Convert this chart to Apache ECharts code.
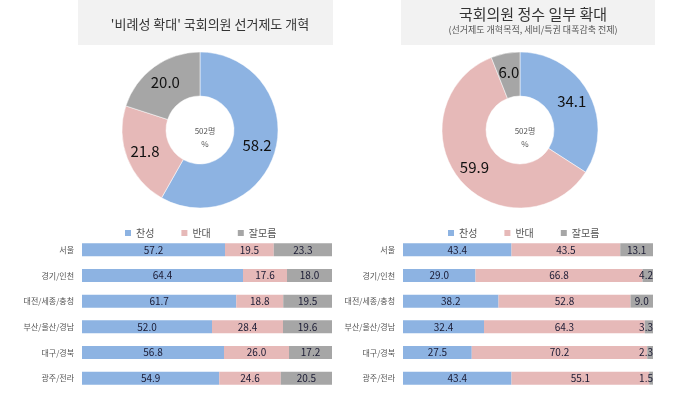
<!DOCTYPE html>
<html><head><meta charset="utf-8">
<script src="https://cdn.jsdelivr.net/npm/echarts@6/dist/echarts.min.js"></script>
<style>html,body{margin:0;padding:0;background:#fff}#c{width:700px;height:399px}</style>
</head><body><div id="c"></div>
<script>
const seriesNames = ['찬성', '반대', '잘모름'];
const colors = ['#8DB3E2', '#E6B9B8', '#A6A6A6'];
const regions = ['서울', '경기/인천', '대전/세종/충청', '부산/울산/경남', '대구/경북', '광주/전라'];

const pieLeft = [58.2, 21.8, 20.0];
const pieRight = [34.1, 59.9, 6.0];

const leftFor = [57.2, 64.4, 61.7, 52.0, 56.8, 54.9];
const leftAgainst = [19.5, 17.6, 18.8, 28.4, 26.0, 24.6];
const leftUnsure = [23.3, 18.0, 19.5, 19.6, 17.2, 20.5];

const rightFor = [43.4, 29.0, 38.2, 32.4, 27.5, 43.4];
const rightAgainst = [43.5, 66.8, 52.8, 64.3, 70.2, 55.1];
const rightUnsure = [13.1, 4.2, 9.0, 3.3, 2.3, 1.5];

const titleLeft = "'비례성 확대' 국회의원 선거제도 개혁";
const titleRight = '국회의원 정수 일부 확대';
const subRight = '(선거제도 개혁목적, 세비/특권 대폭감축 전제)';
const centerText = '502명\n%';

const FONT = '"Noto Sans CJK KR", sans-serif';
const chart = echarts.init(document.getElementById('c'));

function pie(vals, cx) {
  return {
    type: 'pie', center: [cx, 130], radius: [34, 78], startAngle: 90,
    silent: true, labelLine: { show: false },
    label: { show: true, position: 'inside', formatter: p => p.value.toFixed(1),
      fontSize: 15, color: '#111', fontFamily: FONT },
    itemStyle: { borderColor: '#fff', borderWidth: 0.5 },
    data: vals.map((v, i) => ({ name: seriesNames[i], value: v, itemStyle: { color: colors[i] } }))
  };
}
function bars(arrs, idx) {
  return arrs.map((a, i) => ({
    type: 'bar', name: seriesNames[i], stack: 's' + idx, xAxisIndex: idx, yAxisIndex: idx,
    barWidth: 13, silent: true, itemStyle: { color: colors[i] },
    label: { show: true, position: 'inside', formatter: p => p.value.toFixed(1),
      fontSize: 10, color: '#1a1a33', fontFamily: FONT },
    data: a.map(v => v < 5 ? { value: v, label: { position: 'insideRight', distance: 0 } } : v)
  }));
}
const grids = [
  { left: 82, width: 250, top: 237, height: 154 },
  { left: 403, width: 250, top: 237, height: 154 }
];
chart.setOption({
  animation: false,
  textStyle: { fontFamily: FONT },
  graphic: [
    { type: 'rect', shape: { x: 78, y: 0, width: 255, height: 45 }, style: { fill: '#F2F2F2' }, silent: true },
    { type: 'rect', shape: { x: 401, y: 0, width: 254, height: 45 }, style: { fill: '#F2F2F2' }, silent: true }
  ],
  title: [
    { text: titleLeft, left: 205, top: 13, textAlign: 'center',
      textStyle: { fontSize: 13, fontWeight: 'normal', color: '#333', fontFamily: FONT } },
    { text: titleRight, subtext: subRight, left: 528, top: 2, textAlign: 'center', itemGap: 3,
      textStyle: { fontSize: 15, fontWeight: 'normal', color: '#333', fontFamily: FONT },
      subtextStyle: { fontSize: 9, color: '#555', fontFamily: FONT } },
    { text: centerText, left: 200, top: 119, textAlign: 'center',
      textStyle: { fontSize: 8, fontWeight: 'normal', color: '#555', lineHeight: 13, fontFamily: FONT } },
    { text: centerText, left: 520, top: 119, textAlign: 'center',
      textStyle: { fontSize: 8, fontWeight: 'normal', color: '#555', lineHeight: 13, fontFamily: FONT } }
  ],
  legend: [
    { left: 120, top: 223, itemWidth: 6, itemHeight: 6, itemGap: 27, icon: 'rect', selectedMode: false,
      data: seriesNames, textStyle: { fontSize: 10, color: '#555', fontFamily: FONT } },
    { left: 443, top: 223, itemWidth: 6, itemHeight: 6, itemGap: 27, icon: 'rect', selectedMode: false,
      data: seriesNames, textStyle: { fontSize: 10, color: '#555', fontFamily: FONT } }
  ],
  grid: grids,
  xAxis: [0, 1].map(i => ({ type: 'value', gridIndex: i, min: 0, max: 100, show: false })),
  yAxis: [0, 1].map(i => ({ type: 'category', gridIndex: i, data: regions, inverse: true,
    axisLine: { show: false }, axisTick: { show: false },
    axisLabel: { fontSize: 8, color: '#555', margin: 8, fontFamily: FONT } })),
  series: [
    pie(pieLeft, 200), pie(pieRight, 520),
    ...bars([leftFor, leftAgainst, leftUnsure], 0),
    ...bars([rightFor, rightAgainst, rightUnsure], 1)
  ]
});
</script></body></html>
